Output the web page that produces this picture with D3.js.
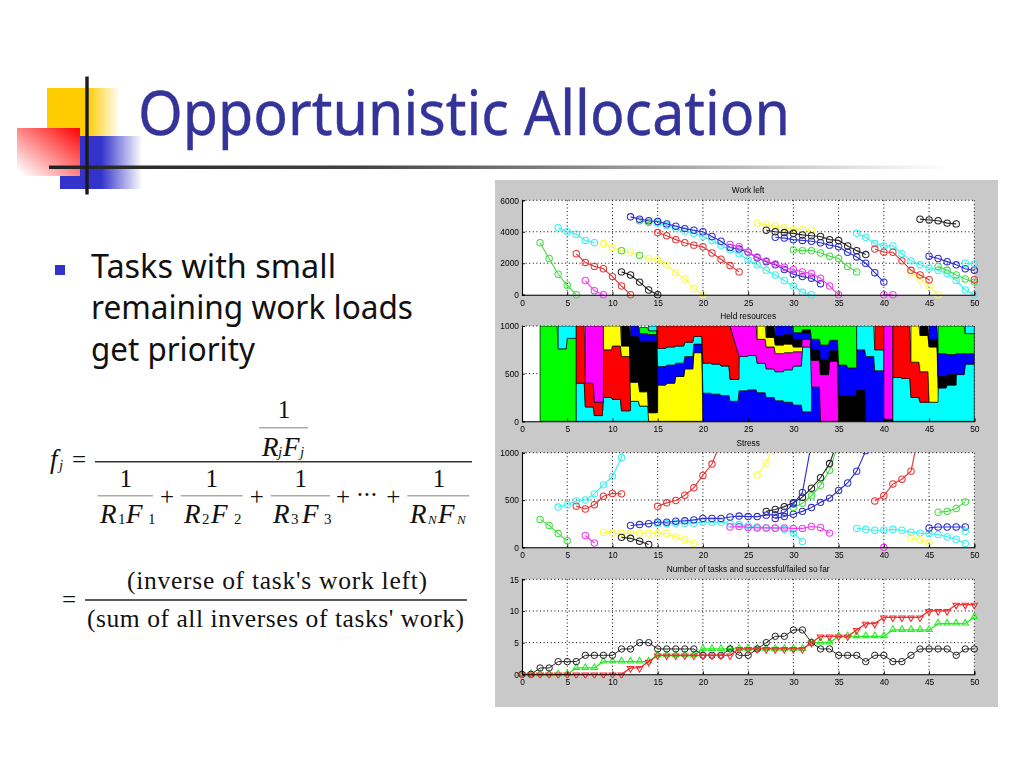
<!DOCTYPE html>
<html><head><meta charset="utf-8">
<style>html,body{margin:0;padding:0;background:#fff;overflow:hidden}svg{display:block}</style>
<script src="https://cdn.jsdelivr.net/npm/d3@7/dist/d3.min.js"></script></head>
<body><svg id="s" width="1024" height="768"></svg>
<script>
// ---- text
const slideTitle = "Opportunistic Allocation";
const bulletLines = ["Tasks with small","remaining work loads","get priority"];
const plotTitles = ["Work left","Held resources","Stress","Number of tasks and successful/failed so far"];
const xTicks = [0,5,10,15,20,25,30,35,40,45,50];
const workTicks = [0,2000,4000,6000];
const heldTicks = [0,500,1000];
const stressTicks = [0,500,1000];
const countTicks = [0,5,10,15];
const palette = {g:"#48dc48",c:"#3cf0f0",y:"#fbfb48",r:"#e63838",m:"#f23cf2",k:"#262626",b:"#3030d0"};
const solid = {g:"#00ff00",c:"#00ffff",y:"#ffff00",r:"#ff0000",m:"#ff00ff",k:"#000000",b:"#0000ff"};

// ---- Work left: [colour, first time step, values]
const workG1=[3300,2300,1300,600,0];
const workC1=[4250,4000,3850,3450,3300];
const workY1=[3250,3000,2800,2700,2500,2300,2200,1900,1400,1000,400,0];
const workG2=[2800];
const workG2b=[2500];
const workR1=[2600,2050,1800,1650,1150,550,0];
const workM1=[900,250,0];
const workK1=[1450,1250,800,300,0];
const workG3=[4700,4600,4650];
const workC2=[4550,4400,4200,4050,3900,3700,3450,3150,2850,2600,2200,1900,1550,1250,900,550,150,0];
const workB1=[4950,4800,4700,4650,4500,4350,4200,4100,4000,3700,3400,3000,2900,2700,2350,2100,1900,1600,1300,1150,1050,700];
const workR2=[3950,3750,3500,3300,3150,3050,2650,2250,1850,1450];
const workM2=[3200,3050,2700,2400,2150,1950,1750,1600,1450,1350,1050,550,0];
const workY2=[4550,4450,4350,4250,4150,4150,4100];
const workK2=[4100,4000,3950,3900,3800,3750,3700,3500,3450,3100,2800,2550];
const workB2=[3650,3600,3500,3450,3400,3300,3150,3050,2700,2400,2000,1400,800];
const workG4=[2850,2800,2800,2650,2450,2300,1800,1450];
const workC3=[3900,3650,3250,3100,3100,2600,2150,1900,1700,1550,1350,900,300,0];
const workR3=[2900,2700,2700,2150,1550,1250,950];
const workK3=[4800,4750,4700,4550,4500];
const workB3=[2450,2300,2100,1900,1650,1550];
const workG5=[1800,1550,1250,1000,800];
const workY3=[1400,1000,550,0];
const workC4=[2000,1950];
const workM3=[0,0];
const workR4=[950];
const workSeries=[["g",2,workG1],["c",4,workC1],["y",9,workY1],["g",11,workG2],["g",13,workG2b],["r",6,workR1],["m",7,workM1],["k",11,workK1],
 ["g",13,workG3],["c",15,workC2],["b",12,workB1],["r",15,workR2],["y",26,workY2],["m",23,workM2],["b",28,workB2],["k",27,workK2],["g",30,workG4],
 ["c",37,workC3],["y",43,workY3],["r",39,workR3],["k",44,workK3],["g",46,workG5],["b",45,workB3],["c",49,workC4],["m",40,workM3],["r",50,workR4]];

// ---- Held resources: [colour, first time step, lower edges, upper edges, steps that slope all the way to the next]
const heldBands=[
 ["g",2,[0,0,0,0],[1000,1000,760,870]],
 ["c",4,[760,870],[1000,1000]],
 ["c",6,[0,0,0,0,0,0,0,0],[400,150,60,250,230,110,210,160]],
 ["r",6,[400,150,60,250,230,110],[1000,400,200,750,790,680]],
 ["m",7,[400,200],[1000,1000]],
 ["y",9,[750,790,680,210,160,0,0,0,0,0,0],[1000,1000,790,410,310,90,380,400,470,550,720]],
 ["k",11,[790,410,310,90],[1000,890,840,840]],
 ["b",12,[890,840,840,380,400,470,550,720,0,0,0,0,0,0,0,0,0,0,0,0,0],[1000,920,910,575,590,610,680,810,295,285,270,210,320,330,300,250,215,200,170,100,360]],
 ["g",13,[920,910],[985,950]],
 ["c",14,[950,575,590,610,680,810,295,285,270,210,320,330,300,250,215,200,170,100],[1000,765,780,790,830,890,610,600,580,440,680,690,610,550,520,540,580,780]],
 ["r",15,[765,780,790,830,890,610,600,580,440,440],[1000,1000,1000,1000,1000,1000,1000,1000,1000,680],[8,9]],
 ["m",23,[1000,680,690,610,550,520,540,580,780,360,0,0],[1000,1000,1000,860,780,710,720,730,860,640,490,630],[0]],
 ["y",26,[860,780,710,720,730],[1000,880,800,810,780]],
 ["k",27,[880,800,810,780,920,640,490,630,0,0,0],[1000,900,910,860,960,755,650,740,270,270,330]],
 ["b",28,[900,910,860,860,755,650,740,270,270,330,0,0],[1000,1000,930,920,860,800,850,590,560,750,680,530]],
 ["g",30,[930,960,860,800,850,590,560],[1000,1000,1000,1000,1000,1000,1000]],
 ["c",37,[750,680,530],[1000,1000,750]],
 ["r",39,[750],[1000]],
 ["m",40,[20],[1000]],
 ["k",40,[0],[20]],
 ["c",41,[0,0,0,0,0,0,0,0,0],[460,450,250,200,200,350,380,490,600]],
 ["r",41,[460,450,250,200],[1000,1000,620,520]],
 ["y",43,[620,520,200],[1000,900,780]],
 ["k",44,[900,780,350,380],[1000,860,470,490]],
 ["b",45,[860,470,490,490,600],[1000,710,700,710,710]],
 ["g",46,[710,700,710,710],[1000,1000,1000,920]],
 ["c",49,[920],[1000]]
];

// ---- Stress
const stressC1=[425,450,490,500,565,660,750,950,1300];
const stressR1=[435,405,450,540,570,565];
const stressG1=[295,230,145,70];
const stressM1=[125,45];
const stressY1=[160,150,145,150,150,150,150,145,110,80,40];
const stressK1=[105,95,65,30];
const stressC2=[250,250,255,255,255,265,265,265,250,240,225,215,205,200,190,150,60];
const stressB1=[230,240,250,265,265,275,280,290,305,305,305,320,330,325,325,340,345,370,460,580,1105];
const stressR2=[435,470,495,550,630,760,880,1120];
const stressM2=[215,220,210,205,205,205,205,200,200,220,210,150];
const stressY2=[765,890,1110];
const stressG2=[420,465,545,655,815,1100];
const stressK2=[380,400,430,470,530,625,735,885,1150];
const stressB2=[305,325,350,380,420,475,520,600,680,805,1020];
const stressC3=[200,190,180,180,190,180,160,150,145,135,110,85,40];
const stressR3=[490,545,670,720,805,1250];
const stressY3=[100,80,50];
const stressM3=[0];
const stressB3=[205,215,215,215,215];
const stressG3=[370,380,410,480];
const stressC4=[170];
const stressSeries=[["c",4,stressC1],["r",6,stressR1],["g",2,stressG1],["m",7,stressM1],["y",9,stressY1],["k",11,stressK1],["c",15,stressC2],
 ["r",15,stressR2],["m",23,stressM2],["y",26,stressY2],["b",28,stressB2],["g",30,stressG2],["k",27,stressK2],["b",12,stressB1],["c",37,stressC3],
 ["r",39,stressR3],["y",43,stressY3],["m",40,stressM3],["b",45,stressB3],["g",46,stressG3],["c",49,stressC4]];

// ---- Counts, time 0..50
const tasksNow=[0,0,1,1,2,2,2,3,3,3,3,4,4,5,5,4,4,4,4,4,3,3,3,4,3,3,4,5,6,6,7,7,5,4,4,3,3,3,2,3,3,2,2,3,4,4,4,4,3,4,4];
const succeeded=[0,0,0,0,0,0,1,1,1,2,2,2,2,2,2,3,3,3,3,3,4,4,4,4,4,4,4,4,4,4,4,4,5,5,5,6,6,6,6,6,6,7,7,7,7,7,8,8,8,8,9];
const failed=[0,0,0,0,0,0,0,0,0,0,0,0,1,1,2,3,3,3,3,3,3,3,3,3,4,4,4,4,4,4,4,4,5,6,6,6,6,7,8,8,9,9,9,9,9,10,10,10,11,11,11];

const svg=d3.select("#s");
const defs=svg.append("defs");
function lin(id,stops,x1=0,y1=0,x2=1,y2=0){
  const g=defs.append("linearGradient").attr("id",id).attr("x1",x1).attr("y1",y1).attr("x2",x2).attr("y2",y2);
  stops.forEach(s=>g.append("stop").attr("offset",s[0]).attr("stop-color",s[1]).attr("stop-opacity",s[2]));
}
lin("gy",[[0,"#ffcc00",1],[0.55,"#ffcc00",1],[1,"#ffcc00",0]]);
lin("gb",[[0,"#3333cc",1],[0.5,"#3333cc",1],[1,"#3333cc",0]]);
lin("gr",[[0,"#ff0000",1],[0.95,"#ffffff",1],[1,"#ffffff",1]],1,0,0,1);
lin("gl",[[0,"#222",1],[0.35,"#444",1],[1,"#fff",1]]);
defs.append("filter").attr("id","soft").attr("x",-0.02).attr("y",-0.02).attr("width",1.04).attr("height",1.04)
  .append("feGaussianBlur").attr("stdDeviation",0.5);

// decoration
svg.append("rect").attr("x",47).attr("y",88).attr("width",73).attr("height",48).attr("fill","url(#gy)");
svg.append("rect").attr("x",60).attr("y",136).attr("width",82).attr("height",53).attr("fill","url(#gb)");
svg.append("rect").attr("x",17).attr("y",128).attr("width",63).attr("height",48).attr("fill","url(#gr)");
svg.append("rect").attr("x",49).attr("y",165.5).attr("width",900).attr("height",3.5).attr("fill","url(#gl)");
svg.append("rect").attr("x",85.3).attr("y",76.5).attr("width",3.4).attr("height",118).attr("fill","#1a1a1a");

svg.append("text").text(slideTitle).attr("x",138).attr("y",135).attr("fill","#333399").attr("stroke","#333399").attr("stroke-width",0.4)
  .attr("font-family","'Noto Sans'").attr("font-size",62).attr("textLength",652).attr("lengthAdjust","spacingAndGlyphs");
svg.append("rect").attr("x",55).attr("y",265).attr("width",10).attr("height",10).attr("fill","#3333cc");
const bw=[245,322,164];
bulletLines.forEach((t,i)=>svg.append("text").text(t).attr("x",91).attr("y",278+i*41.3).attr("fill","#111")
  .attr("font-family","'Noto Sans'").attr("font-size",33).attr("textLength",bw[i]).attr("lengthAdjust","spacingAndGlyphs"));

// formula
const serif="'Liberation Serif'";
function mt(t,x,y,o={}){
  return svg.append("text").text(t).attr("x",x).attr("y",y).attr("font-family",serif).attr("fill","#111")
   .attr("font-size",o.s||25).attr("font-style",o.i?"italic":"normal").attr("text-anchor",o.a||"start")
   .attr("stroke",o.h?"#111":"none").attr("stroke-width",o.h?0.12:0);
}
function bar(x1,x2,y,c,w){svg.append("line").attr("x1",x1).attr("x2",x2).attr("y1",y).attr("y2",y).attr("stroke",c).attr("stroke-width",w);}
mt("1",284,418,{a:"middle"});
bar(259,308,427.7,"#aaa",1.5);
mt("R",262,455.7,{i:1,s:27,h:1}); mt("j",278,457,{i:1,s:15}); mt("F",283,455.7,{i:1,s:27,h:1}); mt("j",300,457,{i:1,s:15});
mt("f",50,468,{i:1,s:27}); mt("j",59,470,{i:1,s:15}); mt("=",72,468);
bar(95,472,461.7,"#333",1.5);
[125.7,211.7,300.7,439].forEach(x=>mt("1",x,486.7,{a:"middle"}));
[[97.7,153],[180.7,242.7],[270.7,330],[407.3,469.3]].forEach(b=>bar(b[0],b[1],495.7,"#aaa",1.5));
[167,256.7,343,393.3].forEach(x=>mt("+",x,505,{a:"middle"}));
[360,367,374].forEach(x=>mt("·",x,503,{a:"middle"}));
[[100,"1",118,"1"],[184,"2",202,"2"],[273,"3",293,"3"]].forEach((d,i)=>{
  mt("R",d[0],523,{i:1,s:27,h:1}); mt(d[1],d[0]+18,524,{s:15}); mt("F",[126,211,302][i],523,{i:1,s:27,h:1}); mt(d[3],[148,234,324][i],524,{s:15});
});
mt("R",410,523,{i:1,s:27,h:1}); mt("N",428,524,{i:1,s:13}); mt("F",438,523,{i:1,s:27,h:1}); mt("N",457,524,{i:1,s:13});
mt("(inverse of task's work left)",127,589,{s:25.5}).attr("textLength",300);
mt("=",62,608);
bar(85,467,600,"#222",1.5);
mt("(sum of all inverses of tasks' work)",87,627,{s:25.5}).attr("textLength",377);

// panel
const panel=svg.append("g").attr("filter","url(#soft)");
panel.append("rect").attr("x",495).attr("y",180).attr("width",503).attr("height",527).attr("fill","#c9c9c9");
const x0=522,x1=974.3;
const plots=[[200.3,294.7],[326,421.3],[452.7,547.3],[579.3,674.3]];
const x=d3.scaleLinear().domain([0,50]).range([x0,x1]);
const ys=[d3.scaleLinear().domain([0,6000]).range([plots[0][1],plots[0][0]]),
          d3.scaleLinear().domain([0,1000]).range([plots[1][1],plots[1][0]]),
          d3.scaleLinear().domain([0,1000]).range([plots[2][1],plots[2][0]]),
          d3.scaleLinear().domain([0,15]).range([plots[3][1],plots[3][0]])];
const yT=[workTicks,heldTicks,stressTicks,countTicks];
const sans="'Liberation Sans'";
const groups=[];
plots.forEach((p,i)=>{
  const g=panel.append("g");
  g.append("rect").attr("x",x0).attr("y",p[0]).attr("width",x1-x0).attr("height",p[1]-p[0]).attr("fill","#fff");
  const dot="1 2.6";
  g.selectAll(".gx").data(xTicks.slice(1)).join("line").attr("x1",d=>x(d)).attr("x2",d=>x(d)).attr("y1",p[0]).attr("y2",p[1]).attr("stroke","#000").attr("stroke-width",1).attr("stroke-dasharray",dot);
  g.selectAll(".gy").data(yT[i].slice(1)).join("line").attr("y1",d=>ys[i](d)).attr("y2",d=>ys[i](d)).attr("x1",x0).attr("x2",x1).attr("stroke","#000").attr("stroke-width",1).attr("stroke-dasharray",dot);
  const cid="clip"+i;
  defs.append("clipPath").attr("id",cid).append("rect").attr("x",x0-4).attr("y",p[0]).attr("width",x1-x0+8).attr("height",p[1]-p[0]+4);
  groups.push(g.append("g").attr("clip-path",`url(#${cid})`));
  g.append("text").text(plotTitles[i]).attr("x",(x0+x1)/2).attr("y",p[0]-7).attr("text-anchor","middle")
    .attr("font-family",sans).attr("font-size",8.3).attr("fill","#000");
});
function axes(i){
  const p=plots[i];
  const top=panel.append("g");
  const ax=top.append("g").attr("transform",`translate(0,${p[1]})`).call(d3.axisBottom(x).tickValues(xTicks).tickSize(-3).tickPadding(6).tickFormat(d3.format("d")));
  const ay=top.append("g").attr("transform",`translate(${x0},0)`).call(d3.axisLeft(ys[i]).tickValues(yT[i]).tickSize(-3).tickPadding(3).tickFormat(d3.format("d")));
  [ax,ay].forEach(a=>{a.selectAll("text").attr("font-family",sans).attr("font-size",8.4).attr("fill","#000");
    a.selectAll("line").attr("stroke","#000").attr("stroke-width",0.9);
    a.select(".domain").attr("stroke","#000").attr("stroke-width",1.1);});
  ax.selectAll("text").attr("y",5);
}
const lineGen=(yS)=>d3.line().x(d=>x(d[0])).y(d=>yS(d[1]));
function drawSeries(g,series,yS){
  series.forEach(([c,start,vals])=>{
    const pts=vals.map((v,k)=>[start+k,v]);
    g.append("path").datum(pts).attr("d",lineGen(yS)).attr("fill","none").attr("stroke",palette[c]).attr("stroke-width",1.15);
    g.selectAll(null).data(pts).join("circle").attr("cx",d=>x(d[0])).attr("cy",d=>yS(d[1])).attr("r",3.2)
      .attr("fill","none").attr("stroke",palette[c]).attr("stroke-width",1.05);
  });
}
drawSeries(groups[0],workSeries,ys[0]);

// held areas: each time-step's value holds, with a short ramp before the next step
const ramp=0.12;
const areaGen=d3.area().x(d=>x(d.t)).y0(d=>ys[1](d.lo)).y1(d=>ys[1](d.hi));
heldBands.forEach(([c,start,lo,hi,slants])=>{
  const pts=[];
  lo.forEach((l,k)=>{
    pts.push({t:start+k,lo:l,hi:hi[k]});
    if(slants && slants.includes(k)) return;
    pts.push({t:start+k+(k===lo.length-1?1:1-ramp),lo:l,hi:hi[k]});
  });
  groups[1].append("path").datum(pts).attr("d",areaGen).attr("fill",solid[c]).attr("stroke","#000").attr("stroke-width",0.7);
});
drawSeries(groups[2],stressSeries,ys[2]);

// counts
const g3=groups[3], y3=ys[3];
const pts=a=>a.map((v,k)=>[k,v]);
g3.append("path").datum(pts(succeeded)).attr("d",lineGen(y3)).attr("fill","none").attr("stroke","#22f022").attr("stroke-width",1.3);
g3.selectAll(null).data(pts(succeeded)).join("path").attr("d",d3.symbol(d3.symbolTriangle,18))
  .attr("transform",d=>`translate(${x(d[0])},${y3(d[1])-0.5})`).attr("fill","none").attr("stroke","#22f022").attr("stroke-width",1.1);
g3.append("path").datum(pts(tasksNow)).attr("d",lineGen(y3)).attr("fill","none").attr("stroke","#222").attr("stroke-width",1);
g3.selectAll(null).data(pts(tasksNow)).join("circle").attr("cx",d=>x(d[0])).attr("cy",d=>y3(d[1])).attr("r",3.2).attr("fill","none").attr("stroke","#222").attr("stroke-width",1);
g3.append("path").datum(pts(failed)).attr("d",lineGen(y3)).attr("fill","none").attr("stroke","#f03030").attr("stroke-width",1.3);
g3.selectAll(null).data(pts(failed)).join("path").attr("d",d3.symbol(d3.symbolTriangle,18))
  .attr("transform",d=>`translate(${x(d[0])},${y3(d[1])+0.5}) rotate(180)`).attr("fill","none").attr("stroke","#f03030").attr("stroke-width",1.1);
[0,1,2,3].forEach(axes);
</script></body></html>
